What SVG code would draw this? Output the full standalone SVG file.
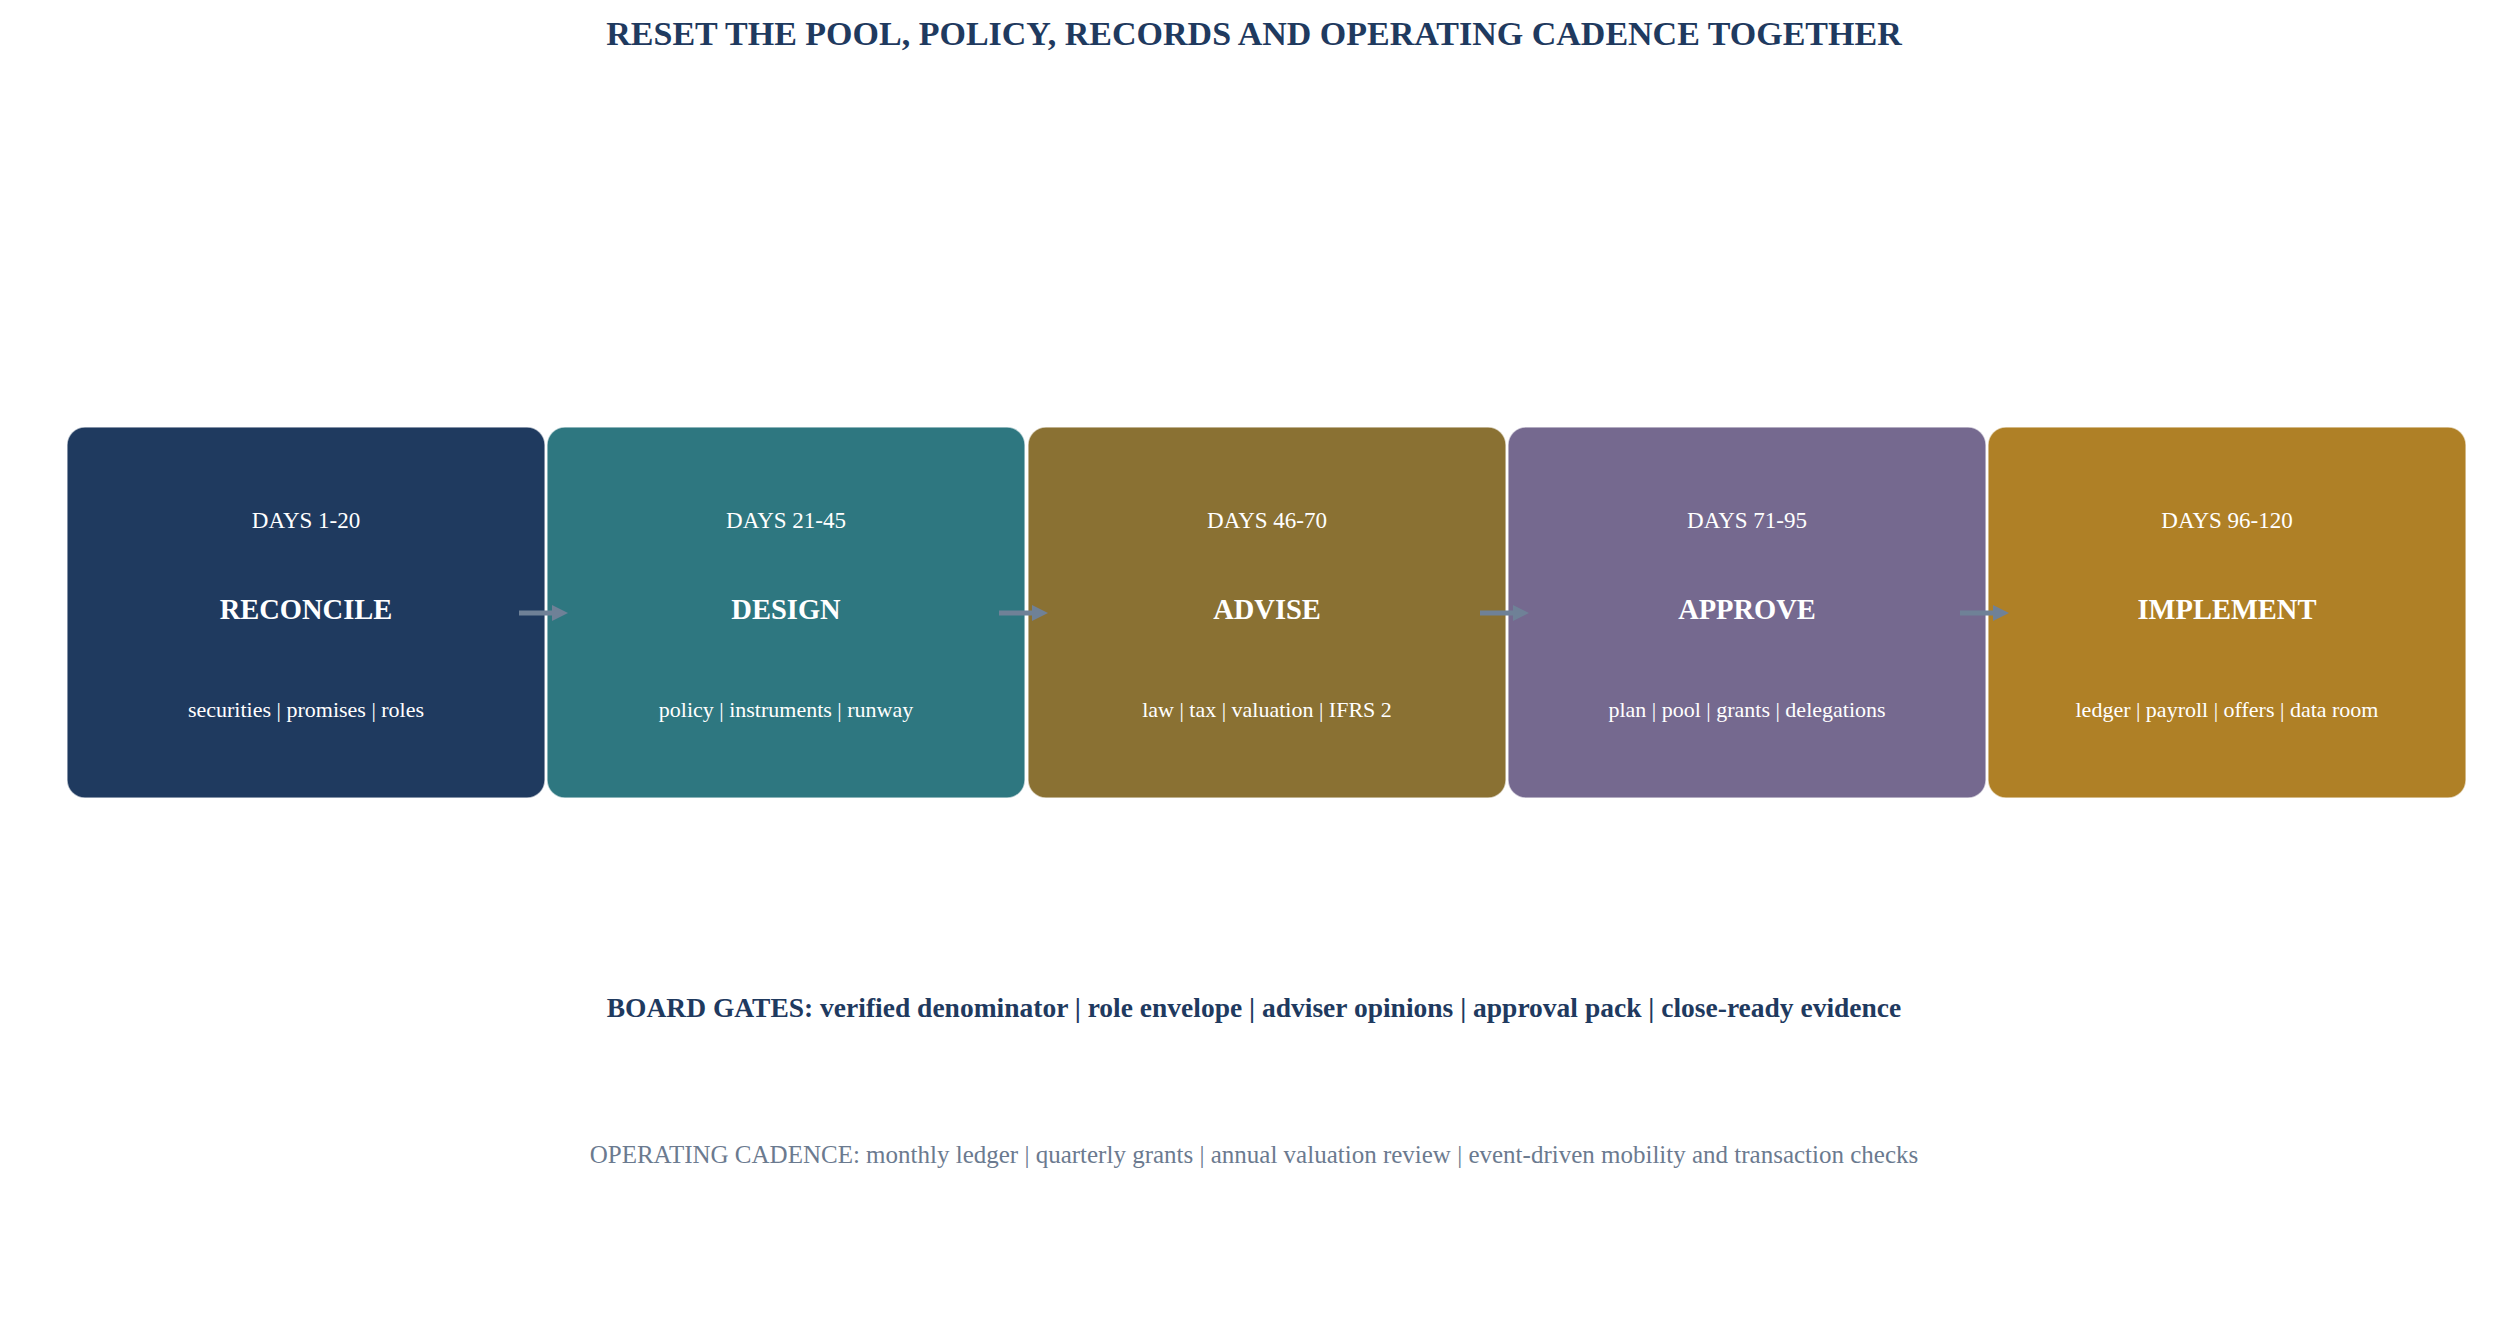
<svg xmlns="http://www.w3.org/2000/svg" width="2508" height="1320" viewBox="0 0 2508 1320">
<defs>
<style>
text{font-family:"Liberation Serif","Times New Roman",serif;text-anchor:middle}
.title{font-size:34px;font-weight:bold;fill:#1f3a5f}
.box{stroke:#ffffff;stroke-opacity:0.6;stroke-width:1.5}
.days{font-size:23px;fill:#ffffff}
.name{font-size:28.5px;font-weight:bold;fill:#ffffff}
.sub{font-size:22px;fill:#ffffff}
.gates{font-size:27.5px;font-weight:bold;fill:#1f3a5f}
.cad{font-size:25px;fill:#6b7a8f}
.conn{stroke:#6f8197;stroke-width:5;fill:none;marker-end:url(#ah)}
</style>
<marker id="ah" markerWidth="3.2" markerHeight="3.2" refX="0.4" refY="1.6" orient="auto" markerUnits="strokeWidth">
<path d="M0,0 L3.2,1.6 L0,3.2 Z" fill="#6f8197"/>
</marker>
</defs>
<rect width="2508" height="1320" fill="#ffffff"/>
<text class="title" x="1254" y="45">RESET THE POOL, POLICY, RECORDS AND OPERATING CADENCE TOGETHER</text>
<g id="node-reconcile">
<rect class="box" x="67" y="427" width="478" height="371" rx="18" fill="#1f3a5f"/>
<text class="days" x="306" y="528">DAYS 1-20</text>
<text class="name" x="306" y="619">RECONCILE</text>
<text class="sub" x="306" y="717">securities | promises | roles</text>
</g>
<g id="node-design">
<rect class="box" x="547" y="427" width="478" height="371" rx="18" fill="#2e7780"/>
<text class="days" x="786" y="528">DAYS 21-45</text>
<text class="name" x="786" y="619">DESIGN</text>
<text class="sub" x="786" y="717">policy | instruments | runway</text>
</g>
<g id="node-advise">
<rect class="box" x="1028" y="427" width="478" height="371" rx="18" fill="#8a7133"/>
<text class="days" x="1267" y="528">DAYS 46-70</text>
<text class="name" x="1267" y="619">ADVISE</text>
<text class="sub" x="1267" y="717">law | tax | valuation | IFRS 2</text>
</g>
<g id="node-approve">
<rect class="box" x="1508" y="427" width="478" height="371" rx="18" fill="#75698f"/>
<text class="days" x="1747" y="528">DAYS 71-95</text>
<text class="name" x="1747" y="619">APPROVE</text>
<text class="sub" x="1747" y="717">plan | pool | grants | delegations</text>
</g>
<g id="node-implement">
<rect class="box" x="1988" y="427" width="478" height="371" rx="18" fill="#af8026"/>
<text class="days" x="2227" y="528">DAYS 96-120</text>
<text class="name" x="2227" y="619">IMPLEMENT</text>
<text class="sub" x="2227" y="717">ledger | payroll | offers | data room</text>
</g>
<g id="connectors">
<line class="conn" x1="519" y1="613" x2="554" y2="613"/>
<line class="conn" x1="999" y1="613" x2="1034" y2="613"/>
<line class="conn" x1="1480" y1="613" x2="1515" y2="613"/>
<line class="conn" x1="1960" y1="613" x2="1995" y2="613"/>
</g>
<text class="gates" x="1254" y="1017">BOARD GATES: verified denominator | role envelope | adviser opinions | approval pack | close-ready evidence</text>
<text class="cad" x="1254" y="1163">OPERATING CADENCE: monthly ledger | quarterly grants | annual valuation review | event-driven mobility and transaction checks</text>
</svg>
